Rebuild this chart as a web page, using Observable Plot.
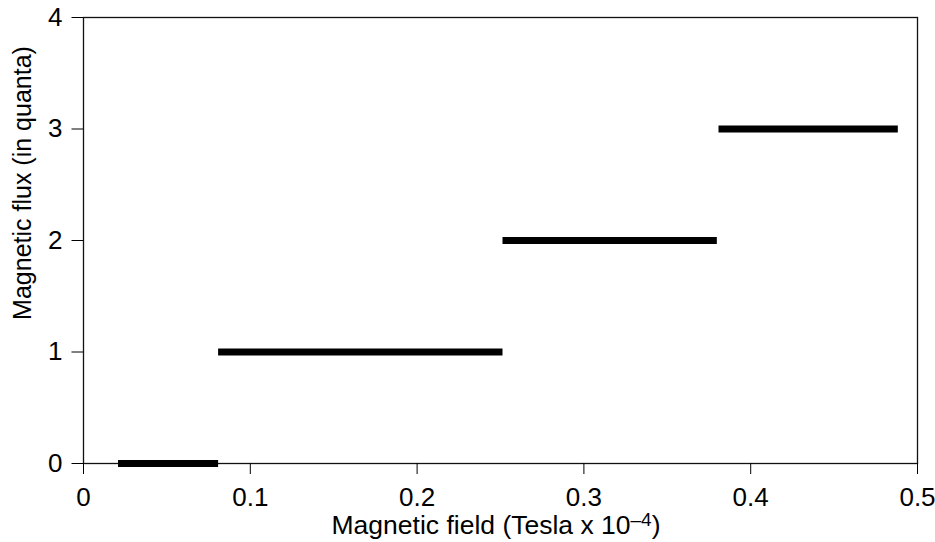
<!DOCTYPE html>
<html>
<head>
<meta charset="utf-8">
<script src="https://cdn.jsdelivr.net/npm/d3@7"></script>
<script src="https://cdn.jsdelivr.net/npm/@observablehq/plot@0.6"></script>
<style>
  html, body { margin: 0; padding: 0; background: #fff; }
  #chart svg { display: block; }
</style>
</head>
<body>
<div id="chart"></div>
<script>
// Step segments: flux level (in quanta) and field range (Tesla x 10^-4)
const fluxLevels = [0, 1, 2, 3];
const fieldStart = [0.021, 0.081, 0.2515, 0.381];
const fieldEnd   = [0.081, 0.2515, 0.380, 0.4885];

const xTicks = [0, 0.1, 0.2, 0.3, 0.4, 0.5];
const xTickLabels = ["0", "0.1", "0.2", "0.3", "0.4", "0.5"];
const yTicks = [0, 1, 2, 3, 4];
const yTickLabels = ["0", "1", "2", "3", "4"];

const xLabelMain = "Magnetic field (Tesla x 10";
const xLabelExp = "–4";
const xLabelEnd = ")";
const yLabel = "Magnetic flux (in quanta)";

const segments = fluxLevels.map((f, i) => ({flux: f, x1: fieldStart[i], x2: fieldEnd[i]}));

const FS = 26;
const FONT = "'Liberation Sans', Arial, sans-serif";

const chart = Plot.plot({
  width: 935,
  height: 542,
  marginLeft: 83,
  marginRight: 18,
  marginTop: 17,
  marginBottom: 79,
  style: {fontFamily: FONT, color: "#000", background: "#fff"},
  x: {domain: [0, 0.5]},
  y: {domain: [0, 4]},
  marks: [
    Plot.frame({stroke: "#111", strokeWidth: 1.3}),
    Plot.axisX({
      ticks: xTicks, tickSize: 11, tickPadding: 13, fontSize: FS,
      tickFormat: d => xTickLabels[xTicks.indexOf(d)],
      label: null
    }),
    Plot.axisY({
      ticks: yTicks, tickSize: 11.5, tickPadding: 9.5, fontSize: FS,
      tickFormat: d => yTickLabels[yTicks.indexOf(d)],
      label: null
    }),
    Plot.ruleY(segments, {y: "flux", x1: "x1", x2: "x2", stroke: "#000", strokeWidth: 7, strokeLinecap: "butt"})
  ]
});

document.getElementById("chart").appendChild(chart);

const svg = d3.select(chart);
// x-axis title with superscript exponent
const xt = svg.append("text")
  .attr("transform", "translate(496,534)")
  .attr("text-anchor", "middle")
  .attr("font-family", FONT)
  .attr("font-size", 26.5)
  .attr("fill", "#000");
xt.append("tspan").text(xLabelMain);
xt.append("tspan").attr("font-size", 19).attr("dy", -8).text(xLabelExp);
xt.append("tspan").attr("dy", 8).text(xLabelEnd);

// y-axis title, rotated
svg.append("text")
  .attr("transform", "translate(31,183) rotate(-90)")
  .attr("text-anchor", "middle")
  .attr("font-family", FONT)
  .attr("font-size", 25)
  .attr("fill", "#000")
  .text(yLabel);
</script>
</body>
</html>
